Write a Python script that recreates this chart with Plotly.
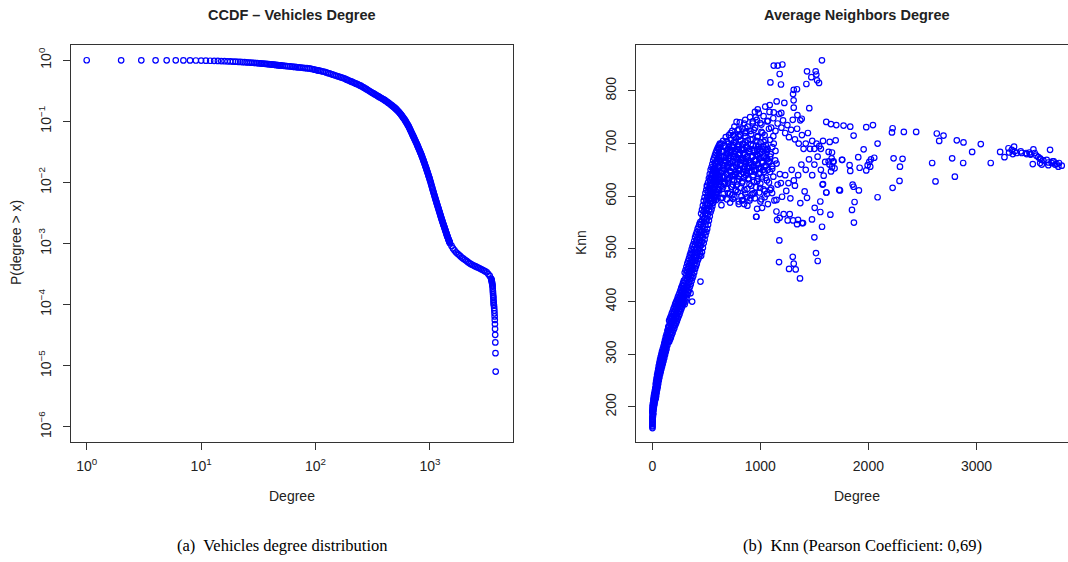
import plotly.graph_objects as go

# ---------------- Left panel: CCDF of vehicles degree ----------------
ccdf_degree = (
    [1, 2, 3, 4, 5, 6, 7, 8, 9, 10, 11, 12, 13, 14, 15, 16, 17, 18, 19, 20,
     21, 22, 23, 24, 25, 26, 27, 28, 29, 30, 31, 32, 33, 34, 35, 36, 37, 38, 39, 40]
    + [41, 42, 43, 44, 45, 46, 47, 48, 49, 50, 52, 54, 56, 58, 60, 62, 64, 66, 68, 70, 72,
       75, 78, 81, 84, 87, 90, 93, 96, 99, 102, 105, 108, 112, 116, 120, 124, 128, 132,
       137, 142, 147, 152, 157, 162, 167, 172, 178]
    + [183, 188, 193, 198, 204, 209, 215, 220, 226, 232, 238, 244, 250, 257, 263, 270, 277,
       284, 291, 298, 306, 313, 321, 328, 336, 344, 352, 360]
    + [368, 376, 384, 392, 400, 408, 416, 424, 432, 440, 448, 456, 464, 472, 480, 488, 496,
       504, 512, 520, 528, 536, 544, 552, 560, 568, 576, 584, 592, 600]
    + [607, 614, 621, 628, 635, 642, 649, 656, 663, 670, 677, 684, 691, 698, 705, 712, 719,
       726, 733, 740, 747, 754, 761, 768, 775, 782, 789, 796, 803, 810, 817, 824, 831, 838,
       845, 852, 859, 866, 873, 880, 887, 894, 901, 908, 915, 922, 929, 936, 943, 950, 957,
       964, 971, 978, 985, 992, 999]
    + [1008, 1016, 1024, 1032, 1040, 1048, 1056, 1064, 1072, 1080, 1088, 1096, 1104, 1112,
       1120, 1128, 1136, 1144, 1152, 1160, 1168, 1176, 1184, 1192, 1200, 1208, 1216, 1224,
       1232, 1240, 1248, 1256, 1264, 1272, 1280, 1288, 1296, 1304, 1312, 1320, 1328, 1336,
       1344, 1352, 1360, 1368, 1376, 1384, 1392, 1400, 1408, 1416, 1424, 1432, 1440, 1448,
       1456, 1464, 1472, 1480, 1488, 1496]
    + [1545, 1590, 1640, 1690, 1740, 1790, 1845, 1900, 1960, 2020, 2080, 2140, 2205, 2270,
       2340, 2410, 2480, 2555, 2630, 2710, 2790, 2875, 2960, 3050, 3140, 3235, 3330, 3420]
    + [3440, 3455, 3468, 3480, 3492, 3503, 3514, 3524, 3534, 3544, 3553, 3562, 3571, 3580,
       3588, 3596, 3603, 3610]
    + [3625, 3640, 3652, 3663, 3674, 3684, 3694, 3704, 3714, 3724, 3736, 3750]
)
ccdf_prob = (
    [0.99999, 0.9997, 0.9992, 0.9985, 0.9975, 0.9962, 0.9947, 0.993, 0.991, 0.988,
     0.985, 0.982, 0.978, 0.974, 0.970, 0.966, 0.962, 0.957, 0.953, 0.948,
     0.943, 0.938, 0.934, 0.929, 0.925, 0.920, 0.916, 0.911, 0.907, 0.902,
     0.898, 0.894, 0.889, 0.885, 0.881, 0.877, 0.872, 0.868, 0.864, 0.860]
    + [0.855, 0.851, 0.847, 0.843, 0.839, 0.835, 0.832, 0.828, 0.824, 0.822, 0.815, 0.809,
       0.803, 0.798, 0.793, 0.787, 0.782, 0.778, 0.773, 0.769, 0.764, 0.759, 0.752, 0.746,
       0.741, 0.736, 0.730, 0.719, 0.710, 0.700, 0.690, 0.682, 0.675, 0.665, 0.655, 0.646,
       0.632, 0.619, 0.608, 0.594, 0.582, 0.569, 0.557, 0.546, 0.536, 0.525, 0.515, 0.506]
    + [0.493, 0.482, 0.471, 0.461, 0.451, 0.442, 0.432, 0.424, 0.414, 0.406, 0.396, 0.388,
       0.380, 0.368, 0.359, 0.348, 0.339, 0.329, 0.320, 0.311, 0.302, 0.294, 0.286, 0.279,
       0.272, 0.264, 0.258, 0.251]
    + [0.245, 0.240, 0.234, 0.229, 0.224, 0.218, 0.213, 0.207, 0.202, 0.197, 0.192, 0.187,
       0.182, 0.177, 0.173, 0.169, 0.164, 0.160, 0.155, 0.150, 0.146, 0.142, 0.137, 0.133,
       0.128, 0.124, 0.119, 0.115, 0.111, 0.107]
    + [0.1035, 0.0998, 0.0964, 0.0929, 0.0897, 0.0867, 0.0836, 0.0802, 0.0769, 0.0738,
       0.0708, 0.0679, 0.0650, 0.0624, 0.0600, 0.0577, 0.0555, 0.0535, 0.0514, 0.0494,
       0.0475, 0.0457, 0.0441, 0.0424, 0.0407, 0.0392, 0.0377, 0.0363, 0.0349, 0.0336,
       0.0323, 0.0310, 0.0299, 0.0288, 0.0277, 0.0266, 0.0255, 0.0244, 0.0234, 0.0225,
       0.0216, 0.0207, 0.0198, 0.0190, 0.0182, 0.0175, 0.0168, 0.0161, 0.0154, 0.0148,
       0.0142, 0.0136, 0.0130, 0.0125, 0.0120, 0.0115, 0.0110]
    + [0.01042, 0.00989, 0.00940, 0.00891, 0.00847, 0.00805, 0.00766, 0.00731, 0.00697, 0.00664,
       0.00632, 0.00603, 0.00575, 0.00551, 0.00527, 0.00505, 0.00483, 0.00461, 0.00443, 0.00425,
       0.00407, 0.00392, 0.00376, 0.00361, 0.00347, 0.00333, 0.00320, 0.00307, 0.00295, 0.00283,
       0.00272, 0.00262, 0.00252, 0.00243, 0.00234, 0.00226, 0.00218, 0.00210, 0.00203, 0.00197,
       0.00191, 0.00184, 0.00178, 0.00172, 0.00167, 0.00161, 0.00156, 0.00151, 0.00146, 0.00141,
       0.00137, 0.00133, 0.00129, 0.00126, 0.00122, 0.00118, 0.00115, 0.00112, 0.00109, 0.00107,
       0.00104, 0.00101]
    + [9.12e-4, 8.30e-4, 7.69e-4, 7.18e-4, 6.82e-4, 6.52e-4, 6.19e-4, 5.89e-4, 5.65e-4, 5.42e-4,
       5.20e-4, 4.99e-4, 4.78e-4, 4.63e-4, 4.49e-4, 4.35e-4, 4.25e-4, 4.14e-4, 4.03e-4, 3.92e-4,
       3.81e-4, 3.71e-4, 3.60e-4, 3.49e-4, 3.37e-4, 3.16e-4, 2.94e-4, 2.67e-4]
    + [2.59e-4, 2.51e-4, 2.42e-4, 2.33e-4, 2.24e-4, 2.15e-4, 2.07e-4, 1.97e-4, 1.82e-4, 1.68e-4,
       1.57e-4, 1.46e-4, 1.36e-4, 1.30e-4, 1.20e-4, 1.12e-4, 1.06e-4, 1.00e-4]
    + [9.6e-5, 8.8e-5, 8.0e-5, 7.2e-5, 6.4e-5, 5.6e-5, 4.8e-5, 4.0e-5, 3.2e-5, 2.4e-5,
       1.6e-5, 8.0e-6]
)
ccdf_xticks = [1, 10, 100, 1000]
ccdf_xticktext = ["10<sup>0</sup>", "10<sup>1</sup>", "10<sup>2</sup>", "10<sup>3</sup>"]
ccdf_yticks = [1e-6, 1e-5, 1e-4, 1e-3, 1e-2, 1e-1, 1]
ccdf_yticktext = ["10<sup>\u22126</sup>", "10<sup>\u22125</sup>", "10<sup>\u22124</sup>",
                  "10<sup>\u22123</sup>", "10<sup>\u22122</sup>", "10<sup>\u22121</sup>",
                  "10<sup>0</sup>"]

# ---------------- Right panel: Knn vs degree ----------------
band_degree = [2, 4, 6, 8, 11, 14, 17, 20, 24, 28, 32, 36, 40, 45, 50, 55, 60, 66, 72, 78,
               84, 90, 97, 104, 111, 118, 125, 132, 140, 148, 156, 164, 172, 180, 188, 196,
               204, 212, 220, 228, 236, 244, 252, 260, 268, 276, 284, 292, 300, 308, 316, 324,
               332, 340, 348, 356, 364, 372, 380, 388, 396, 404, 412, 420, 428, 436, 444, 452,
               460, 468, 476, 484, 492, 500, 508, 516, 524, 532, 540, 548, 556, 564, 572, 580,
               588, 596, 604, 612, 620]
band_knn_1 = [160, 176, 182, 188, 194, 199, 203, 206, 211, 216, 216, 221, 227, 233, 238, 244,
              250, 256, 262, 267, 272, 277, 282, 287, 293, 299, 305, 310, 317, 324, 324, 328,
              332, 337, 341, 346, 350, 355, 359, 363, 368, 372, 376, 381, 386, 390, 395, 400,
              395, 400, 406, 412, 417, 422, 428, 433, 439, 445, 449, 455, 462, 467, 472, 478,
              482, 487, 491, 487, 494, 502, 511, 518, 526, 532, 538, 546, 554, 562, 570, 575,
              581, 588, 593, 598, 603, 607, 611, 614, 617]
band_knn_2 = [165, 181, 187, 193, 199, 204, 208, 211, 216, 221, 223, 228, 234, 240, 245, 251,
              257, 263, 269, 274, 279, 284, 289, 294, 300, 306, 312, 317, 324, 331, 334, 338,
              342, 347, 351, 356, 360, 365, 369, 373, 378, 382, 386, 391, 396, 400, 405, 410,
              410, 415, 421, 427, 432, 437, 443, 448, 454, 460, 464, 470, 477, 482, 487, 493,
              497, 502, 506, 507, 514, 522, 531, 538, 546, 552, 558, 566, 574, 582, 590, 595,
              601, 608, 613, 618, 623, 627, 631, 634, 637]
band_knn_3 = [170, 186, 192, 198, 204, 209, 213, 216, 221, 226, 230, 235, 241, 247, 252, 258,
              264, 270, 276, 281, 286, 291, 296, 301, 307, 313, 319, 324, 331, 338, 344, 348,
              352, 357, 361, 366, 370, 375, 379, 383, 388, 392, 396, 401, 406, 410, 415, 420,
              425, 430, 436, 442, 447, 452, 458, 463, 469, 475, 479, 485, 492, 497, 502, 508,
              512, 517, 521, 527, 534, 542, 551, 558, 566, 572, 578, 586, 594, 602, 610, 615,
              621, 628, 633, 638, 643, 647, 651, 654, 657]
band_knn_4 = [175, 191, 197, 203, 209, 214, 218, 221, 226, 231, 237, 242, 248, 254, 259, 265,
              271, 277, 283, 288, 293, 298, 303, 308, 314, 320, 326, 331, 338, 345, 354, 358,
              362, 367, 371, 376, 380, 385, 389, 393, 398, 402, 406, 411, 416, 420, 425, 430,
              440, 445, 451, 457, 462, 467, 473, 478, 484, 490, 494, 500, 507, 512, 517, 523,
              527, 532, 536, 547, 554, 562, 571, 578, 586, 592, 598, 606, 614, 622, 630, 635,
              641, 648, 653, 658, 663, 667, 671, 674, 677]
band_knn_5 = [180, 196, 202, 208, 214, 219, 223, 226, 231, 236, 244, 249, 255, 261, 266, 272,
              278, 284, 290, 295, 300, 305, 310, 315, 321, 327, 333, 338, 345, 352, 364, 368,
              372, 377, 381, 386, 390, 395, 399, 403, 408, 412, 416, 421, 426, 430, 435, 440,
              455, 460, 466, 472, 477, 482, 488, 493, 499, 505, 509, 515, 522, 527, 532, 538,
              542, 547, 551, 567, 574, 582, 591, 598, 606, 612, 618, 626, 634, 642, 650, 655,
              661, 668, 673, 678, 683, 687, 691, 694, 697]

low_degree = [1, 2, 3, 1, 4, 2, 5, 3, 6, 1, 8, 446, 369, 354]
low_knn = [163, 168, 172, 178, 183, 190, 196, 201, 206, 192, 186, 438, 400, 416]

core_degree = [
    505, 560, 640, 720, 800, 880,
    530, 590, 650, 690, 760, 830, 950, 1010,
    545, 600, 660, 700, 740, 790, 860, 920, 990, 1060,
    560, 610, 655, 690, 735, 775, 820, 880, 960, 1030, 1100,
    575, 620, 665, 700, 745, 785, 830, 900, 940, 1000, 1080, 1160,
    585, 630, 670, 710, 750, 800, 850, 890, 930, 980, 1050, 1120,
    600, 645, 685, 725, 760, 805, 845, 875, 920, 1000, 1090, 1180,
    615, 655, 695, 735, 775, 815, 855, 895, 940, 990, 1040, 1110,
    630, 665, 705, 745, 785, 825, 865, 910, 955, 1015, 1075, 1150,
    640, 680, 715, 755, 795, 840, 880, 925, 975, 1030, 1090,
    655, 695, 730, 770, 810, 850, 895, 945, 1000, 1060, 1140,
    670, 710, 750, 790, 835, 880, 930, 985, 1050, 1110,
    690, 730, 770, 815, 860, 910, 965, 1030, 1090,
    710, 760, 810, 860, 915, 975, 1040, 1120,
    740, 800, 870, 940, 1010, 1080,
    780, 850, 930, 1000, 1070,
]
core_knn = [
    584, 587, 583, 588, 585, 582,
    596, 593, 597, 594, 598, 592, 596, 594,
    603, 607, 604, 606, 602, 608, 605, 603, 607, 604,
    616, 613, 617, 614, 618, 612, 616, 614, 617, 613, 615,
    624, 627, 623, 626, 622, 628, 625, 623, 627, 624, 626, 622,
    636, 633, 637, 634, 638, 632, 636, 634, 637, 633, 635, 637,
    644, 647, 643, 646, 642, 648, 645, 643, 647, 644, 646, 642,
    656, 653, 657, 654, 658, 652, 656, 654, 657, 653, 655, 657,
    664, 667, 663, 666, 662, 668, 665, 663, 667, 664, 666, 662,
    676, 673, 677, 674, 678, 672, 676, 674, 677, 673, 675,
    684, 687, 683, 686, 682, 688, 685, 683, 687, 684, 686,
    696, 693, 697, 694, 698, 692, 696, 694, 697, 693,
    704, 707, 703, 706, 702, 708, 705, 703, 707,
    716, 713, 717, 714, 718, 712, 716, 714,
    724, 727, 723, 726, 722, 728,
    741, 738, 742, 739, 743,
]

cloud_degree = [
    605, 612, 618, 625, 630, 636, 640, 646, 652, 658, 663, 668, 672, 678, 683, 688, 694, 698, 703, 708,
    712, 717, 722, 726, 731, 735, 740, 745, 750, 754, 758, 763, 768, 772, 776, 781, 785, 790, 794, 799,
    803, 808, 812, 817, 821, 826, 830, 835, 839, 844, 848, 853, 857, 862, 866, 871, 875, 880, 884, 889,
    893, 898, 902, 907, 911, 916, 920, 925, 929, 934, 938, 943, 947, 952, 956, 961, 965, 970, 974, 979,
    983, 988, 992, 997, 1001, 1006, 1010, 1015, 1019, 1024, 1028, 1033, 1037, 1042, 1046, 1051, 1055, 1060, 1064, 1069,
    660, 675, 690, 705, 715, 730, 742, 756, 766, 778, 792, 806, 818, 832, 846, 860, 874, 888, 900, 914,
    928, 942, 956, 970, 984, 998, 1012, 1026, 1040, 1054, 1068, 1082, 1096, 1110, 1124, 1138,
    540, 548, 556, 565, 572, 580, 588, 596, 602, 610, 618, 626, 634, 600, 616, 585, 570, 555, 545, 530,
    520, 512, 505, 495,
    560, 575, 590, 603, 620, 640, 655, 680, 700, 725, 748, 760, 790, 810, 835, 860, 882, 905, 930, 950,
    968, 985, 1010, 1030, 1045, 1065, 1085, 1100, 1120, 1140, 1160, 1175, 1195, 1210, 1230, 1250, 1265, 1285, 1300, 1320,
    1340, 1355, 1370, 1385, 1400, 1420, 1440, 1460, 1480, 1500, 1520, 1545, 1560, 1580,
    720, 745, 770, 800, 825, 850, 875, 900, 930, 961, 970, 1001, 1016, 1040, 1070, 1090, 1109, 1130, 1149, 1149,
    1155, 1179, 1201, 1216, 1240, 1253, 1272, 1278, 1303, 1320, 1340, 1370, 1386, 1410, 1432, 908, 841, 1190, 1230, 1260,
    1290, 1310, 1350, 1380, 1420, 1450, 1480, 1500, 1530, 1560, 1600, 1640, 1660,
]
cloud_knn = [
    612, 640, 655, 630, 668, 645, 620, 685, 660, 636, 675, 650, 625, 692, 665, 642, 680, 655, 630, 700,
    672, 648, 688, 662, 618, 695, 640, 676, 656, 702, 630, 684, 664, 645, 710, 690, 622, 670, 652, 698,
    638, 680, 660, 715, 642, 688, 668, 628, 700, 652, 682, 612, 720, 662, 640, 694, 674, 654, 706, 632,
    686, 664, 646, 724, 698, 620, 676, 656, 708, 640, 688, 668, 606, 730, 650, 696, 678, 628, 714, 660,
    690, 642, 672, 616, 702, 654, 684, 636, 720, 664, 694, 646, 676, 610, 706, 658, 688, 630, 670, 650,
    648, 668, 632, 660, 684, 646, 666, 680, 640, 674, 688, 650, 672, 692, 666, 680, 648, 668, 690, 660,
    676, 650, 670, 688, 654, 680, 666, 650, 690, 672, 690, 664, 680, 652, 700, 668,
    620, 640, 605, 652, 618, 664, 630, 676, 598, 690, 612, 700, 596, 666, 688, 648, 600, 635, 590, 615,
    600, 585, 620, 575,
    640, 628, 650, 665, 682, 700, 705, 712, 690, 720, 716, 732, 725, 740, 728, 745, 732, 750, 738, 760,
    745, 758, 736, 752, 770, 742, 760, 730, 748, 724, 738, 756, 730, 744, 720, 735, 712, 726, 745, 708,
    728, 700, 744, 716, 690, 700, 720, 690, 705, 690, 700, 695, 690, 705,
    605, 595, 610, 590, 600, 585, 598, 592, 605, 561, 576, 590, 578, 598, 585, 612, 606, 592, 571, 593,
    555, 559, 599, 566, 610, 554, 566, 596, 554, 620, 547, 587, 549, 609, 597, 596, 593, 625, 640, 625,
    650, 630, 640, 660, 650, 670, 640, 660, 675, 650, 665, 660, 672,
]

sparse_degree = [
    1124, 1161, 1204, 1179, 1093, 1191, 1570, 1432, 1512, 1472, 1426, 1543, 1525, 1518, 1339, 1309, 1303, 1308, 1453, 1194,
    1087, 976, 957, 1151, 1222, 1309, 1124, 1343, 1383, 862, 800, 686, 615, 532, 1610, 1653, 1703, 1770, 1832, 1863,
    1697, 1632, 1672, 1758, 1826, 1906, 1586, 1576, 1610, 1730, 1863, 1642, 1663, 1678, 1632, 1663, 1654, 1687, 1755, 1832,
    1176, 1173, 1300, 1309, 1266, 1327, 1367, 1500, 1515, 1531, 1478, 1571, 1555, 1648, 1611, 1555, 1503, 1580, 1737, 1848,
    1866, 1872, 1912, 1854, 2085, 1919, 1349, 1395, 964,
    1980, 2042, 2224, 2218, 2328, 2442, 2633, 2695, 2655, 2818, 2880, 3040, 2085, 1956, 2054, 2024, 2008, 1993, 1980, 2017,
    2233, 2316, 2292, 2288, 2224, 2590, 2621, 2775, 2877, 2800, 2960, 3132, 3219, 3259, 3296, 3302, 3327, 3348, 3354, 3336,
    3373, 3410, 3419, 3459, 3465, 3490, 3502, 3527, 3539, 3496, 3555, 3573, 3588, 3595, 3619, 3650, 3681, 3665, 3696, 3715,
    3705, 3727, 3742, 3764, 3789, 3758, 3521, 3604, 3589, 3665,
]
sparse_knn = [
    848, 848, 850, 832, 816, 812, 858, 837, 837, 826, 813, 815, 820, 831, 803, 802, 794, 782, 767, 758,
    773, 765, 750, 780, 777, 768, 759, 754, 747, 729, 713, 682, 669, 631, 741, 737, 735, 734, 732, 715,
    706, 684, 665, 669, 659, 674, 639, 622, 607, 612, 618, 703, 683, 666, 666, 655, 647, 653, 669, 648,
    516, 475, 485, 472, 462, 461, 444, 522, 492, 477, 556, 542, 570, 565, 607, 590, 578, 623, 611, 574,
    550, 589, 611, 622, 598, 654, 555, 549, 561,
    731, 735, 729, 721, 722, 722, 719, 715, 705, 706, 702, 699, 700, 689, 673, 670, 665, 659, 649, 656,
    672, 671, 656, 629, 616, 663, 628, 672, 663, 637, 684, 663, 684, 674, 691, 683, 688, 694, 685, 680,
    682, 685, 682, 682, 680, 683, 679, 689, 682, 680, 677, 674, 672, 670, 668, 669, 688, 664, 663, 666,
    666, 660, 661, 663, 658, 656, 661, 660, 663, 659,
]
knn_xticks = [0, 1000, 2000, 3000]
knn_yticks = [200, 300, 400, 500, 600, 700, 800]

# ---------------- Figure ----------------
W, H = 1068, 562
BLUE = "#0000ff"
AX = "#333333"
SANS = "Liberation Sans, Arial, sans-serif"
SERIF = "Liberation Serif, Times New Roman, serif"

marker = dict(symbol="circle-open", size=5.5, color=BLUE, line=dict(width=1.2, color=BLUE))

fig = go.Figure()
fig.add_trace(go.Scatter(x=ccdf_degree, y=ccdf_prob, mode="markers", marker=marker,
                         xaxis="x", yaxis="y", showlegend=False))
for ys in (band_knn_1, band_knn_2, band_knn_3, band_knn_4, band_knn_5):
    fig.add_trace(go.Scatter(x=band_degree, y=ys, mode="markers", marker=marker,
                             xaxis="x2", yaxis="y2", showlegend=False))
for xs, ys in ((low_degree, low_knn), (core_degree, core_knn),
               (cloud_degree, cloud_knn), (sparse_degree, sparse_knn)):
    fig.add_trace(go.Scatter(x=xs, y=ys, mode="markers", marker=marker,
                             xaxis="x2", yaxis="y2", showlegend=False))

def px(x):
    return x / W

def py(y):
    return 1 - y / H

ydom = [py(442), py(45)]
common = dict(showgrid=False, zeroline=False, showline=True, linecolor=AX, linewidth=1,
              ticks="outside", ticklen=7, tickcolor=AX, tickwidth=1,
              tickfont=dict(family=SANS, size=14, color="#222222"))

fig.update_layout(
    width=W, height=H, margin=dict(l=0, r=0, t=0, b=0),
    paper_bgcolor="white", plot_bgcolor="white", showlegend=False,
    xaxis=dict(type="log", domain=[px(70.5), px(513)], range=[-0.1416, 3.7255], anchor="y",
               tickvals=ccdf_xticks, ticktext=ccdf_xticktext, mirror=True,
               ticklabelstandoff=4, **common),
    yaxis=dict(type="log", domain=ydom, range=[-6.25, 0.25], anchor="x",
               tickvals=ccdf_yticks, ticktext=ccdf_yticktext, tickangle=-90, mirror=True,
               ticklabelstandoff=6, **common),
    xaxis2=dict(domain=[px(636), 1.0], range=[-150.6, 3847], anchor="y2",
                tickvals=knn_xticks, mirror=True, ticklabelstandoff=4, **common),
    yaxis2=dict(domain=ydom, range=[133.5, 887], anchor="x2",
                tickvals=knn_yticks, tickangle=-90, mirror=False,
                ticklabelstandoff=6, **common),
)

def ann(text, x, y, size=14, bold=False, family=SANS, angle=0, color="#222222"):
    fig.add_annotation(text=("<b>%s</b>" % text) if bold else text,
                       x=px(x), y=py(y), xref="paper", yref="paper",
                       xanchor="center", yanchor="middle", showarrow=False,
                       textangle=angle, font=dict(family=family, size=size, color=color))

ann("CCDF \u2013 Vehicles Degree", 292, 15, size=14.5, bold=True)
ann("Average Neighbors Degree", 857, 15, size=14.5, bold=True)
ann("Degree", 292, 496)
ann("Degree", 857, 496)
ann("P(degree &gt; x)", 16, 243, angle=-90)
ann("Knn", 581, 243, angle=-90)
ann("(a)  Vehicles degree distribution", 282, 545, size=16.5, family=SERIF, color="black")
ann("(b)  Knn (Pearson Coefficient: 0,69)", 862, 545, size=16.5, family=SERIF, color="black")

fig.write_html("out.html")
